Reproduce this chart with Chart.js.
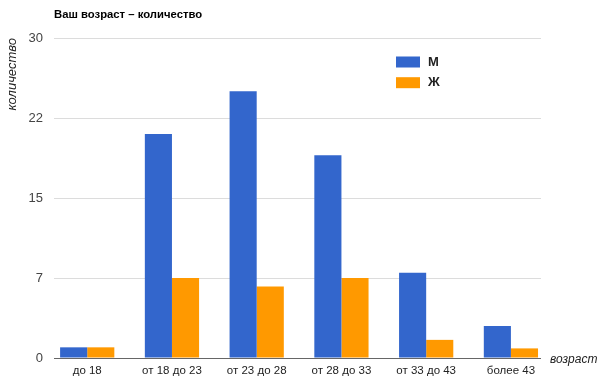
<!DOCTYPE html>
<html><head><meta charset="utf-8">
<script src="https://cdn.jsdelivr.net/npm/chart.js@4/dist/chart.umd.min.js"></script>
<style>html,body{margin:0;padding:0;background:#fff}</style>
</head><body>
<canvas id="c" width="600" height="382"></canvas>
<script>
const chartTitle = 'Ваш возраст – количество';
const categories = ['до 18','от 18 до 23','от 23 до 28','от 28 до 33','от 33 до 43','более 43'];
const seriesNames = ['М','Ж'];
const maleValues = [1, 21, 25, 19, 8, 3];
const femaleValues = [1, 7.5, 6.7, 7.5, 1.7, 0.9];
const yTickLabels = ['0','7','15','22','30'];
const yAxisTitle = 'количество';
const xAxisTitle = 'возраст';
const seriesColors = ['#3366cc','#ff9900'];

const FONT = '"Liberation Sans", Arial, sans-serif';
Chart.defaults.font.family = FONT;

const overlay = {
  id: 'overlay',
  afterDraw(chart) {
    const {ctx, chartArea: a} = chart;
    ctx.save();
    ctx.textBaseline = 'middle';
    ctx.textAlign = 'left';
    ctx.fillStyle = '#000';
    ctx.font = 'bold 11.3px ' + FONT;
    ctx.fillText(chartTitle, a.left, 15);
    ctx.font = 'italic 12px ' + FONT;
    ctx.fillStyle = '#222';
    ctx.fillText(xAxisTitle, a.right + 9, a.bottom + 2);
    chart.data.datasets.forEach((ds, i) => {
      const y = 62 + i * 20.7;
      ctx.fillStyle = ds.backgroundColor;
      ctx.fillRect(396, y - 5.5, 24, 11);
      ctx.fillStyle = '#222';
      ctx.font = 'bold 13px ' + FONT;
      ctx.fillText(ds.label, 428, y);
    });
    ctx.restore();
  }
};

const toPoints = vals => vals.map((v, i) => ({x: i, y: v}));

new Chart(document.getElementById('c'), {
  type: 'bar',
  data: {
    datasets: [
      {label: seriesNames[0], data: toPoints(maleValues), backgroundColor: seriesColors[0]},
      {label: seriesNames[1], data: toPoints(femaleValues), backgroundColor: seriesColors[1]}
    ]
  },
  options: {
    responsive: false,
    animation: false,
    categoryPercentage: 0.64,
    barPercentage: 1.0,
    layout: {padding: {top: 38, right: 59, left: 0, bottom: 0}},
    plugins: {legend: {display: false}, title: {display: false}, tooltip: {enabled: false}},
    scales: {
      x: {
        type: 'linear',
        offset: false,
        min: -0.392,
        max: 5.355,
        grid: {display: false, drawTicks: false, offset: false},
        border: {display: false},
        ticks: {
          stepSize: 1,
          includeBounds: false,
          autoSkip: false,
          maxRotation: 0,
          padding: 6,
          color: '#222',
          font: {size: 11.5},
          callback: v => (Number.isInteger(v) && categories[v] !== undefined) ? categories[v] : ''
        },
        afterFit: s => { s.height = 24; }
      },
      y: {
        min: 0,
        max: 30,
        grid: {
          drawTicks: false,
          color: c => (c.tick && c.tick.value === 0) ? '#666' : '#dcdcdc'
        },
        border: {display: false},
        ticks: {
          stepSize: 7.5,
          padding: 11,
          color: '#444',
          font: {size: 13},
          callback: (v, i) => yTickLabels[i]
        },
        title: {
          display: true,
          text: yAxisTitle,
          align: 'end',
          color: '#222',
          padding: {top: 5, bottom: 4},
          font: {size: 13, style: 'italic'}
        },
        afterFit: s => { s.width = 54; }
      }
    }
  },
  plugins: [overlay]
});
</script>
</body></html>
